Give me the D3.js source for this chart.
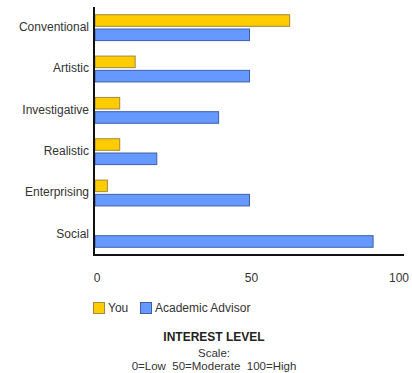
<!DOCTYPE html>
<html>
<head>
<meta charset="utf-8">
<script src="https://cdn.jsdelivr.net/npm/d3@7"></script>
<style>
  body { margin: 0; background: #fff; }
  text { font-family: "Liberation Sans", Arial, sans-serif; }
</style>
</head>
<body>
<div id="canvas"></div>
<script>
"use strict"

let svgWidth = 412
let svgHeight = 373

/*Data*/
let categories = ["Conventional", "Artistic", "Investigative", "Realistic", "Enterprising", "Social"]
let series = ["You", "Academic Advisor"]
let youValues = [63, 13, 8, 8, 4, 0]
let advisorValues = [50, 50, 40, 20, 50, 90]
let xTicks = [0, 50, 100]

let fills = ["#ffcc00", "#6699ff"]
let strokes = ["#a08a3a", "#3d5fa8"]

let svg = d3.select("#canvas")
    .append("svg")
    .attr("width", svgWidth)
    .attr("height", svgHeight)

/*scales*/
let xScale = d3.scaleLinear()
    .domain([0, 100])
    .range([95, 404])

let yScale = d3.scaleBand()
    .domain(categories)
    .range([7, 255])
    .paddingInner(0.35)
    .paddingOuter(0.175)

let ySub = d3.scaleBand()
    .domain(series)
    .range([0, yScale.bandwidth()])
    .paddingInner(0.12)

let rows = categories.map(function(c, i) {
    return { category: c, values: [youValues[i], advisorValues[i]] }
})

/*bars*/
let groups = svg.selectAll("g.row")
    .data(rows)
    .join("g")
    .classed("row", true)
    .attr("transform", d => `translate(0,${yScale(d.category)})`)

groups.selectAll("rect")
    .data(d => d.values.map((v, j) => ({ v: v, j: j })).filter(e => e.v > 0))
    .join("rect")
    .attr("x", xScale(0))
    .attr("y", d => ySub(series[d.j]) + 0.5)
    .attr("width", d => xScale(d.v) - xScale(0))
    .attr("height", ySub.bandwidth() - 1)
    .attr("fill", d => fills[d.j])
    .attr("stroke", d => strokes[d.j])
    .attr("stroke-width", 1)

/*category labels*/
svg.selectAll("text.cat")
    .data(categories)
    .join("text")
    .classed("cat", true)
    .attr("x", 89)
    .attr("y", d => yScale(d) + yScale.bandwidth() / 2)
    .attr("text-anchor", "end")
    .attr("dominant-baseline", "middle")
    .style("font-size", "12px")
    .style("fill", "#333")
    .text(d => d)

/*axes lines*/
svg.append("line")
    .attr("x1", 94).attr("y1", 7)
    .attr("x2", 94).attr("y2", 255)
    .attr("stroke", "#111").attr("stroke-width", 2)

svg.append("line")
    .attr("x1", 93).attr("y1", 255)
    .attr("x2", 404).attr("y2", 255)
    .attr("stroke", "#111").attr("stroke-width", 2)

/*x tick labels*/
svg.selectAll("text.tick")
    .data(xTicks)
    .join("text")
    .classed("tick", true)
    .attr("x", d => Math.min(xScale(d) + 2, 399))
    .attr("y", 279)
    .attr("text-anchor", "middle")
    .attr("dominant-baseline", "middle")
    .style("font-size", "12px")
    .style("fill", "#333")
    .text(d => d)

/*legend*/
let legendX = [93, 140]
series.forEach(function(s, i) {
    svg.append("rect")
        .attr("x", legendX[i] + 0.5)
        .attr("y", 302.5)
        .attr("width", 11)
        .attr("height", 11)
        .attr("fill", fills[i])
        .attr("stroke", strokes[i])
    svg.append("text")
        .attr("x", legendX[i] + 15)
        .attr("y", 308.5)
        .attr("dominant-baseline", "middle")
        .style("font-size", "12px")
        .style("fill", "#333")
        .text(s)
})

/*bottom notes*/
svg.append("text")
    .attr("x", 214).attr("y", 338)
    .attr("text-anchor", "middle")
    .attr("dominant-baseline", "middle")
    .style("font-size", "12px")
    .style("font-weight", "bold")
    .style("fill", "#222")
    .text("INTEREST LEVEL")

svg.append("text")
    .attr("x", 214).attr("y", 354)
    .attr("text-anchor", "middle")
    .attr("dominant-baseline", "middle")
    .style("font-size", "11.5px")
    .style("fill", "#333")
    .text("Scale:")

svg.append("text")
    .attr("x", 214).attr("y", 367)
    .attr("text-anchor", "middle")
    .attr("dominant-baseline", "middle")
    .style("font-size", "11.5px")
    .style("fill", "#333")
    .style("white-space", "pre")
    .attr("xml:space", "preserve")
    .text("0=Low  50=Moderate  100=High")
</script>
</body>
</html>
